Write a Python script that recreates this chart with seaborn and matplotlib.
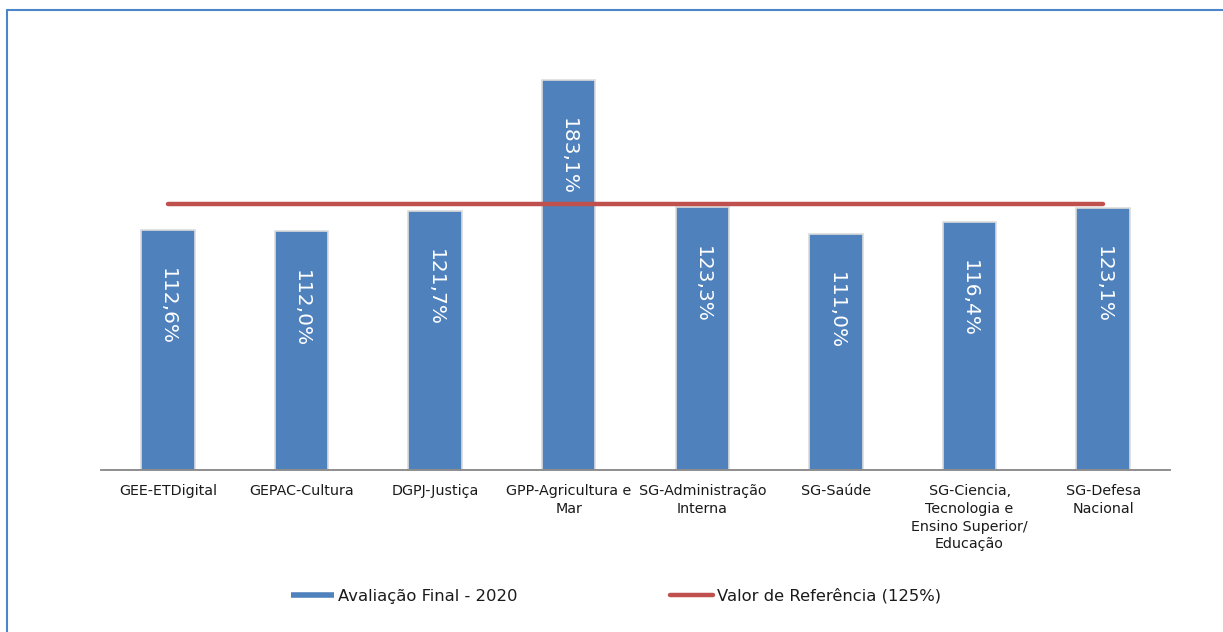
import matplotlib
matplotlib.use("Agg")
import matplotlib.pyplot as plt
from matplotlib.lines import Line2D
import seaborn as sns
import pandas as pd

# Organismos avaliados e respetiva avaliação final (%)
categorias = [
    "GEE-ETDigital",
    "GEPAC-Cultura",
    "DGPJ-Justiça",
    "GPP-Agricultura e\nMar",
    "SG-Administração\nInterna",
    "SG-Saúde",
    "SG-Ciencia,\nTecnologia e\nEnsino Superior/\nEducação",
    "SG-Defesa\nNacional",
]
avaliacao_2020 = [112.6, 112.0, 121.7, 183.1, 123.3, 111.0, 116.4, 123.1]
valor_referencia = 125.0

serie_barras = "Avaliação Final - 2020"
serie_linha = "Valor de Referência (125%)"

AZUL = "#4F81BD"
VERMELHO = "#C0504D"

sns.set_theme(style="white")
plt.rcParams["font.family"] = ["DejaVu Sans"]

df = pd.DataFrame({"organismo": categorias, "avaliacao": avaliacao_2020})

fig = plt.figure(figsize=(12.23, 6.32), dpi=100)
ax = fig.add_axes([101 / 1223, 162 / 632, (1170 - 101) / 1223, 426 / 632])

sns.barplot(data=df, x="organismo", y="avaliacao", color=AZUL, saturation=1,
            width=0.4, edgecolor="#dcdcdc", linewidth=1.2, ax=ax)

# linha do valor de referência, do primeiro ao último organismo
ax.plot([0, len(categorias) - 1], [valor_referencia, valor_referencia],
        color=VERMELHO, lw=3.2, solid_capstyle="round", zorder=3)

# rótulos de valor dentro das barras
for i, v in enumerate(avaliacao_2020):
    ax.text(i, v - 36, f"{v:.1f}%".replace(".", ","), rotation=270,
            ha="center", va="center", color="white", fontsize=14.5, zorder=4)

ax.set_ylim(0, 200)
ax.set_xlim(-0.5, len(categorias) - 0.5)
ax.set_xlabel("")
ax.set_ylabel("")
ax.set_yticks([])
for s in ("top", "left", "right"):
    ax.spines[s].set_visible(False)
ax.spines["bottom"].set_color("#868686")
ax.spines["bottom"].set_linewidth(1.3)
ax.tick_params(axis="x", length=0, pad=10, labelsize=10.3, colors="#1a1a1a")
for lbl in ax.get_xticklabels():
    lbl.set_linespacing(1.35)

# legenda
handles = [
    Line2D([0], [0], color=AZUL, lw=4, solid_capstyle="butt"),
    Line2D([0], [0], color=VERMELHO, lw=3.2, solid_capstyle="round"),
]
fig.legend(handles, [serie_barras, serie_linha], loc="center",
           bbox_to_anchor=(616 / 1223, 1 - 596 / 632), ncol=2, frameon=False,
           fontsize=11.8, handlelength=2.6, handletextpad=0.25,
           columnspacing=9.3, labelcolor="#1a1a1a")

# moldura do gráfico
borda = "#4A86C8"
fig.add_artist(Line2D([7 / 1223, 1.01], [1 - 10 / 632, 1 - 10 / 632],
                      color=borda, lw=1.5, transform=fig.transFigure))
fig.add_artist(Line2D([7 / 1223, 7 / 1223], [1 - 10 / 632, -0.01],
                      color=borda, lw=1.5, transform=fig.transFigure))

fig.savefig("out.png", dpi=100)
